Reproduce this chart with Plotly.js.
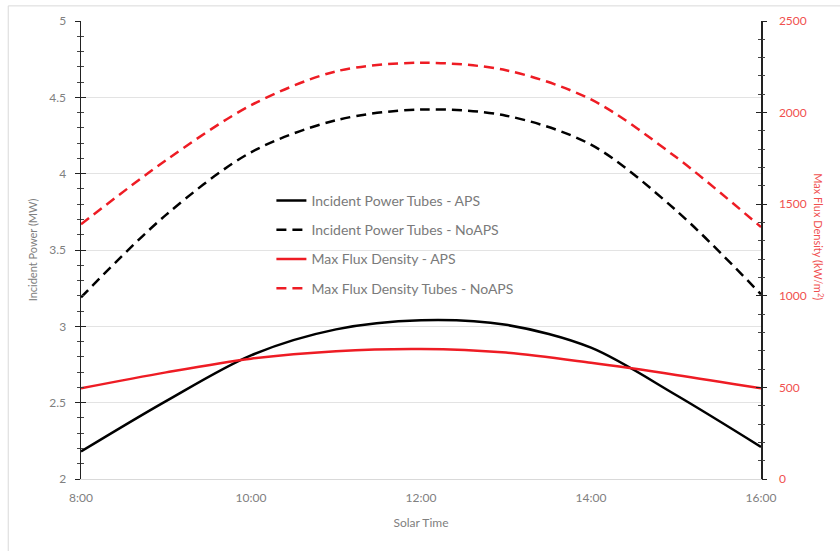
<!DOCTYPE html>
<html>
<head>
<meta charset="utf-8">
<script src="https://cdn.plot.ly/plotly-3.0.1.min.js"></script>
<style>html,body{margin:0;padding:0;background:#fff;}#chart{width:840px;height:551px;}</style>
</head>
<body>
<div id="chart"></div>
<script>
// Solar time in hours
const hours = [8, 9, 10, 11, 12, 13, 14, 15, 16];
const tickHours = [8, 10, 12, 14, 16];
const tickLabels = ["8:00", "10:00", "12:00", "14:00", "16:00"];

// Incident power (MW) - left axis
const powerAPS   = [2.18, 2.51, 2.81, 2.98, 3.04, 3.01, 2.86, 2.55, 2.21];
const powerNoAPS = [3.19, 3.73, 4.14, 4.35, 4.42, 4.38, 4.19, 3.76, 3.21];

// Max flux density (kW/m2) - right axis
const fluxAPS   = [495, 582, 657, 698, 710, 690, 634, 568, 495];
const fluxNoAPS = [1390, 1740, 2040, 2225, 2272, 2231, 2072, 1757, 1375];

const seriesNames = [
  "Incident Power Tubes - APS",
  "Incident Power Tubes - NoAPS",
  "Max Flux Density - APS",
  "Max Flux Density Tubes - NoAPS"
];

const RED = "#ee1c24";
const BLK = "#000000";
const FONT = "Lato, 'Liberation Sans', sans-serif";
const dashPat = "10px,6px";

const traces = [
  {x: hours, y: powerAPS, name: seriesNames[0], yaxis: "y", legendgroup: "a",
   mode: "lines", line: {color: BLK, width: 2.5, shape: "spline", smoothing: 0.9}},
  {x: hours, y: powerNoAPS, name: seriesNames[1], yaxis: "y", legendgroup: "b",
   mode: "lines", line: {color: BLK, width: 2.5, dash: dashPat, shape: "spline", smoothing: 0.9}},
  {x: hours, y: fluxAPS, name: seriesNames[2], yaxis: "y2", legendgroup: "c",
   mode: "lines", line: {color: RED, width: 2.5, shape: "spline", smoothing: 0.9}},
  {x: hours, y: fluxNoAPS, name: seriesNames[3], yaxis: "y2", legendgroup: "d",
   mode: "lines", line: {color: RED, width: 2.5, dash: dashPat, shape: "spline", smoothing: 0.9}}
];

const layout = {
  width: 840, height: 551,
  margin: {l: 81, r: 79, t: 21, b: 72},
  paper_bgcolor: "#ffffff", plot_bgcolor: "#ffffff",
  font: {family: FONT, color: "#808080", size: 12},
  showlegend: true,
  legend: {x: 0.28, y: 0.642, xanchor: "left", yanchor: "top",
           bgcolor: "rgba(255,255,255,0)", tracegroupgap: 8,
           font: {family: FONT, size: 14, color: "#7a7a7a"}},
  xaxis: {range: [8, 16], tickvals: tickHours, ticktext: tickLabels,
          showgrid: false, zeroline: false, showline: true, linecolor: "#d9d9d9", linewidth: 1,
          ticks: "", ticklen: 0, tickfont: {size: 12, color: "#808080"}, ticklabelstandoff: 8,
          title: {text: "Solar Time", font: {size: 12, color: "#808080"}, standoff: 14}},
  yaxis: {range: [2, 5], dtick: 0.5, tick0: 2, showgrid: true, gridcolor: "#e3e3e3", gridwidth: 1,
          zeroline: false, showline: true, linecolor: "#222222", linewidth: 1.5,
          ticks: "outside", ticklen: 5, tickcolor: "#222222",
          minor: {dtick: 0.1, ticks: "outside", ticklen: 3, tickcolor: "#444444", showgrid: false},
          tickfont: {size: 12, color: "#808080"}, ticklabelstandoff: 6,
          title: {text: "Incident Power (MW)", font: {size: 11, color: "#808080"}, standoff: 9}},
  // right axis: labels pushed out by transparent long ticks
  yaxis2: {range: [0, 2500], dtick: 500, overlaying: "y", side: "right", showgrid: false,
           zeroline: false, showline: true, linecolor: "#222222", linewidth: 1.5,
           ticks: "outside", ticklen: 14, tickcolor: "rgba(0,0,0,0)",
           tickfont: {size: 12, color: "#f05050"}},
  yaxis3: {range: [2, 5], overlaying: "y", side: "left", showgrid: false, zeroline: false,
           showticklabels: false, ticks: "inside", ticklen: 5, tickcolor: "#222222", dtick: 0.5, tick0: 2,
           minor: {dtick: 0.1, ticks: "inside", ticklen: 3, tickcolor: "#444444"}},
  yaxis4: {range: [0, 2500], overlaying: "y", side: "right", showgrid: false, zeroline: false,
           showticklabels: false, ticks: "inside", ticklen: 5, tickcolor: "#222222", dtick: 500,
           minor: {dtick: 100, ticks: "inside", ticklen: 3, tickcolor: "#444444"}},
  yaxis5: {range: [0, 2500], overlaying: "y", side: "right", showgrid: false, zeroline: false,
           showticklabels: false, ticks: "outside", ticklen: 5, tickcolor: "#222222", dtick: 500,
           minor: {dtick: 100, ticks: "outside", ticklen: 3, tickcolor: "#444444"}},
  annotations: [
    {text: "Max Flux Density (kW/m<sup>2</sup>)", textangle: 90, xref: "paper", yref: "paper",
     x: 1.0, xshift: 58, y: 0.53, showarrow: false, xanchor: "center", yanchor: "middle",
     font: {family: FONT, size: 11, color: "#f05050"}}
  ],
  shapes: [
    {type: "rect", xref: "paper", yref: "paper", x0: -0.107, x1: 1.3, y0: -0.3, y1: 1.033,
     line: {color: "#d9d9d9", width: 1}, fillcolor: "rgba(0,0,0,0)", layer: "below"}
  ]
};

// empty traces to render the crossing tick axes
traces.push({x: [8], y: [2], yaxis: "y3", showlegend: false, hoverinfo: "skip", mode: "markers", marker: {opacity: 0}});
traces.push({x: [8], y: [0], yaxis: "y4", showlegend: false, hoverinfo: "skip", mode: "markers", marker: {opacity: 0}});
traces.push({x: [8], y: [0], yaxis: "y5", showlegend: false, hoverinfo: "skip", mode: "markers", marker: {opacity: 0}});

Plotly.newPlot("chart", traces, layout, {displayModeBar: false, staticPlot: true});
</script>
</body>
</html>
